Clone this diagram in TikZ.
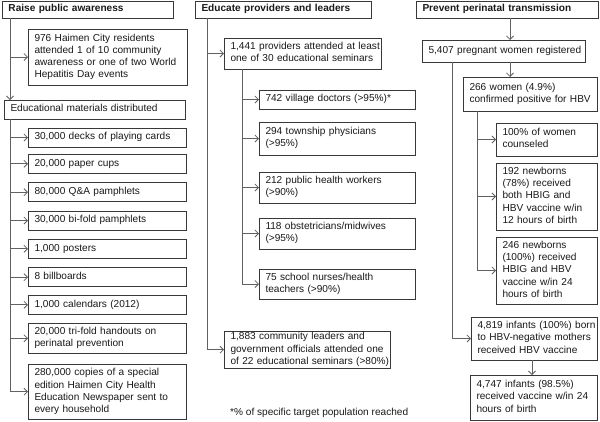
\documentclass[tikz,border=0pt]{standalone}
\usepackage{fontspec}
\setmainfont{Liberation Sans}
\usetikzlibrary{arrows.meta}
\tikzset{
 box/.style={draw=black!78, line width=0.7pt, fill=white, inner xsep=6.5pt, inner ysep=0.5pt, outer sep=0pt, align=left, text=black!90, font=\fontsize{10.1}{12.1}\selectfont, anchor=north west},
 hdr/.style={box, font=\fontsize{10.1}{12.1}\selectfont\bfseries},
 arr/.style={draw=black!62, line width=0.8pt, -{Straight Barb[length=3.5pt,width=7pt]}},
}
\newcommand{\mybox}[7][box]{%
 \pgfmathsetmacro\bh{#6-#4}\pgfmathsetmacro\tw{#5-#3-13}%
 \node[#1, minimum height=\bh pt, text width=\tw pt] (#2) at (#3,#4) {\begin{tabular}{@{}l@{}}#7\end{tabular}};}
\begin{document}
\begin{tikzpicture}[x=1pt,y=-1pt]
\useasboundingbox[fill=white] (0,0) rectangle (600,421);
% column 1
\mybox[hdr]{h1}{2}{1}{173}{18}{Raise public awareness}
\mybox{b1}{28}{29}{187}{85}{976 Haimen City residents\\attended 1 of 10 community\\awareness or one of two World\\Hepatitis Day events}
\mybox{ed}{4}{100}{185}{119}{Educational materials distributed}
\mybox{i1}{28}{128}{186}{147}{30,000 decks of playing cards}
\mybox{i2}{28}{154.3}{186}{173.3}{20,000 paper cups}
\mybox{i3}{28}{182.7}{186}{201.7}{80,000 Q\&A pamphlets}
\mybox{i4}{28}{211}{186}{230}{30,000 bi-fold pamphlets}
\mybox{i5}{28}{239.3}{186}{258.3}{1,000 posters}
\mybox{i6}{28}{267.7}{186}{286.7}{8 billboards}
\mybox{i7}{28}{295.7}{186}{314}{1,000 calendars (2012)}
\mybox{i8}{28}{323.3}{186}{353.3}{20,000 tri-fold handouts on\\perinatal prevention}
\mybox{i9}{28}{364.3}{186}{419}{280,000 copies of a special\\edition Haimen City Health\\Education Newspaper sent to\\every household}
% column 2
\mybox[hdr]{h2}{195}{1}{371}{18}{Educate providers and leaders}
\mybox{p1}{224}{38}{381}{69}{1,441 providers attended at least\\one of 30 educational seminars}
\mybox{s1}{259}{90}{415}{109}{742 village doctors (>95\%)*}
\mybox{s2}{259}{122}{415}{155}{294 township physicians\\(>95\%)}
\mybox{s3}{259}{172}{415}{203}{212 public health workers\\(>90\%)}
\mybox{s4}{259}{218}{415}{249}{118 obstetricians/midwives\\(>95\%)}
\mybox{s5}{259}{269}{415}{299}{75 school nurses/health\\teachers (>90\%)}
\mybox{c1}{224}{331}{390}{368}{1,883 community leaders and\\government officials attended one\\of 22 educational seminars (>80\%)}
\node[anchor=west, inner sep=0pt, text=black!90, font=\fontsize{10.1}{12.1}\selectfont] (fn) at (230,413) {*\% of specific target population reached};
% column 3
\mybox[hdr]{h3}{416}{1}{598}{18}{Prevent perinatal transmission}
\mybox{r1}{422}{40}{585}{62}{5,407 pregnant women registered}
\mybox{r2}{463}{77}{597}{111}{266 women (4.9\%)\\confirmed positive for HBV}
\mybox{t1}{496}{123}{597}{156}{100\% of women\\counseled}
\mybox{t2}{496}{163}{597}{230}{192 newborns\\(78\%) received\\both HBIG and\\HBV vaccine w/in\\12 hours of birth}
\mybox{t3}{496}{237}{597}{304}{246 newborns\\(100\%) received\\HBIG and HBV\\vaccine w/in 24\\hours of birth}
\mybox{n1}{471}{317}{597}{360}{4,819 infants (100\%) born\\to HBV-negative mothers\\received HBV vaccine}
\mybox{n2}{470}{375}{597}{420}{4,747 infants (98.5\%)\\received vaccine w/in 24\\hours of birth}
% connectors column 1
\draw[arr] ([xshift=8pt]h1.south west) -- ([xshift=6pt]ed.north west);
\draw[arr] (10,0 |- b1.west) -- (b1.west);
\draw[arr] ([xshift=6pt]ed.south west) |- (i9.west);
\foreach \n in {i1,i2,i3,i4,i5,i6,i7,i8}{\draw[arr] (10,0 |- \n.west) -- (\n.west);}
% connectors column 2
\draw[arr] ([xshift=12pt]h2.south west) |- (c1.west);
\draw[arr] (207,0 |- p1.west) -- (p1.west);
\draw[arr] ([xshift=18pt]p1.south west) |- (s5.west);
\foreach \n in {s1,s2,s3,s4}{\draw[arr] (242,0 |- \n.west) -- (\n.west);}
% connectors column 3
\draw[arr] (h3.south -| 510,0) -- (r1.north -| 510,0);
\draw[arr] (r1.south -| 510,0) -- (r2.north -| 510,0);
\draw[arr] ([xshift=30pt]r1.south west) |- (n1.west);
\draw[arr] ([xshift=14pt]r2.south west) |- (t3.west);
\foreach \n in {t1,t2}{\draw[arr] (477,0 |- \n.west) -- (\n.west);}
\draw[arr] (n1.south -| 532,0) -- (n2.north -| 532,0);
\end{tikzpicture}
\end{document}
